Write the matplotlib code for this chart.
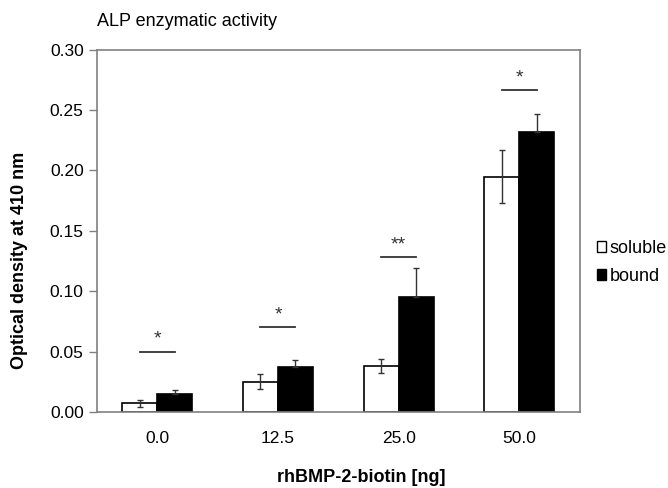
import numpy as np
import matplotlib
matplotlib.use('Agg')
import matplotlib.pyplot as plt
from matplotlib.patches import Patch

plt.rcParams['font.family'] = ['Liberation Sans', 'DejaVu Sans']

doses = ["0.0", "12.5", "25.0", "50.0"]
soluble = [0.007, 0.025, 0.038, 0.195]
soluble_err = [0.003, 0.006, 0.006, 0.022]
bound = [0.015, 0.037, 0.095, 0.232]
bound_err = [0.003, 0.006, 0.024, 0.015]
sig_marks = ["*", "*", "**", "*"]
sig_heights = [0.050, 0.070, 0.128, 0.267]

fig = plt.figure(figsize=(6.68, 4.88), dpi=100)
ax = fig.add_axes([0.145, 0.156, 0.723, 0.742])

x = np.arange(len(doses))
w = 0.29
err_kw = dict(ecolor='#333333', elinewidth=1, capsize=2.5, capthick=1)
ax.bar(x - w/2, soluble, w, yerr=soluble_err, color='white', edgecolor='black',
       linewidth=1.2, error_kw=err_kw, label='soluble')
# error bar of the black bars only shows above the bar
ax.bar(x + w/2, bound, w, yerr=[np.zeros(len(bound)), bound_err], color='black',
       edgecolor='black', linewidth=1.2, error_kw=err_kw, label='bound')

# significance lines
for i in range(len(doses)):
    ax.plot([x[i] - w/2, x[i] + w/2], [sig_heights[i]] * 2, color='#333333', lw=1.3)
    ax.text(x[i], sig_heights[i] + 0.003, sig_marks[i], ha='center', va='bottom',
            fontsize=14, color='#333333')

ax.set_xlim(-0.5, 3.5)
ax.set_ylim(0, 0.30)
ax.set_yticks(np.arange(0, 0.31, 0.05))
ax.set_yticklabels(["%.2f" % v for v in np.arange(0, 0.31, 0.05)])
ax.set_xticks(x)
ax.set_xticklabels(doses)
ax.tick_params(axis='x', length=0, pad=13.5, labelsize=12.5)
ax.tick_params(axis='y', length=6, width=1, color='#808080', labelsize=12.5, pad=3.5)
for s in ax.spines.values():
    s.set_color('#808080')
    s.set_linewidth(1.2)

fig.text(97/668, 1 - 22/488, "ALP enzymatic activity", fontsize=13,
         ha='left', va='center')
fig.text(20/668, 1 - 260/488, "Optical density at 410 nm", fontsize=13,
         fontweight='bold', rotation=90, ha='center', va='center')
fig.text(361/668, 1 - 478/488, "rhBMP-2-biotin [ng]", fontsize=13,
         fontweight='bold', ha='center', va='center')

handles = [Patch(facecolor='white', edgecolor='black', linewidth=1),
           Patch(facecolor='black', edgecolor='black', linewidth=1)]
fig.legend(handles, ['soluble', 'bound'], loc='upper left',
           bbox_to_anchor=(597/668, 1 - 240/488), frameon=False, fontsize=13,
           handlelength=0.5, handleheight=0.55, handletextpad=0.2,
           labelspacing=0.6, borderpad=0, borderaxespad=0)

fig.savefig('out.png', dpi=100)
